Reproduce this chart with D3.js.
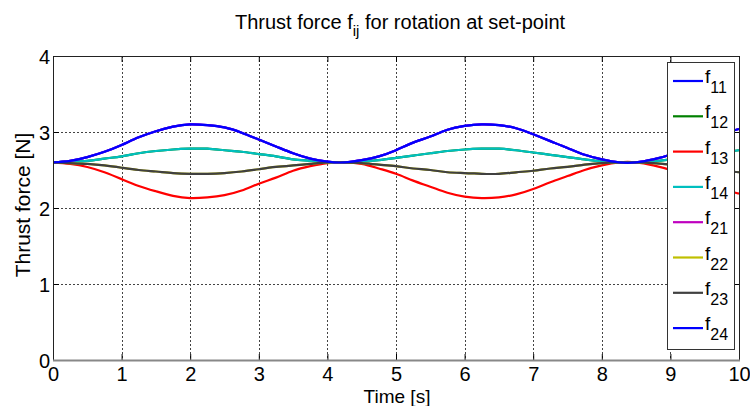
<!DOCTYPE html>
<html>
<head>
<meta charset="utf-8">
<style>
  body { margin: 0; background: #fff; }
  svg text { font-family: "Liberation Sans", Arial, sans-serif; fill: #000; }
</style>
</head>
<body>
<div id="chart"></div>
<script src="https://d3js.org/d3.v7.min.js"></script>
<script>
  // time samples [s]
  const time = [0, 0.25, 0.5, 0.75, 1, 1.25, 1.5, 1.75, 2, 2.25, 2.5, 2.75, 3, 3.25, 3.5, 3.75,
    4, 4.25, 4.5, 4.75, 5, 5.25, 5.5, 5.75, 6, 6.25, 6.5, 6.75, 7, 7.25, 7.5, 7.75,
    8, 8.25, 8.5, 8.75, 9, 9.25, 9.5, 9.75, 10];

  // thrust forces [N]
  const f11 = [2.60, 2.62, 2.67, 2.74, 2.83, 2.93, 3.01, 3.07, 3.10, 3.09, 3.06, 2.99, 2.90, 2.81, 2.72, 2.65,
    2.61, 2.60, 2.63, 2.68, 2.76, 2.86, 2.94, 3.03, 3.08, 3.10, 3.09, 3.05, 2.97, 2.88, 2.79, 2.70,
    2.64, 2.60, 2.60, 2.64, 2.70, 2.79, 2.88, 2.97, 3.04];
  const f13 = [2.60, 2.58, 2.54, 2.47, 2.38, 2.29, 2.22, 2.16, 2.13, 2.14, 2.17, 2.23, 2.32, 2.40, 2.49, 2.55,
    2.59, 2.60, 2.58, 2.52, 2.45, 2.36, 2.28, 2.20, 2.15, 2.13, 2.14, 2.18, 2.25, 2.34, 2.42, 2.50,
    2.56, 2.60, 2.60, 2.56, 2.50, 2.42, 2.34, 2.25, 2.19];
  const f14 = [2.60, 2.61, 2.62, 2.65, 2.68, 2.72, 2.75, 2.77, 2.78, 2.78, 2.76, 2.74, 2.71, 2.68, 2.64, 2.62,
    2.60, 2.60, 2.61, 2.63, 2.66, 2.69, 2.72, 2.75, 2.77, 2.78, 2.78, 2.76, 2.73, 2.70, 2.67, 2.64,
    2.61, 2.60, 2.60, 2.61, 2.64, 2.67, 2.70, 2.73, 2.76];
  const f23 = [2.60, 2.59, 2.58, 2.56, 2.53, 2.50, 2.48, 2.46, 2.45, 2.45, 2.46, 2.48, 2.51, 2.54, 2.56, 2.58,
    2.60, 2.60, 2.59, 2.57, 2.55, 2.52, 2.50, 2.47, 2.46, 2.45, 2.45, 2.47, 2.49, 2.52, 2.54, 2.57,
    2.59, 2.60, 2.60, 2.59, 2.57, 2.54, 2.52, 2.49, 2.47];
  // hidden curves lie under the visible ones
  const f12 = f14;
  const f21 = f11;
  const f22 = f23;
  const f24 = f11;

  const seriesNames = ['11', '12', '13', '14', '21', '22', '23', '24'];
  const seriesValues = [f11, f12, f13, f14, f21, f22, f23, f24];
  const seriesColors = ['#0000ff', '#008000', '#ff0000', '#00bfbf', '#bf00bf', '#bfbf00', '#404040', '#0000ff'];

  const xTicks = [0, 1, 2, 3, 4, 5, 6, 7, 8, 9, 10];
  const yTicks = [0, 1, 2, 3, 4];

  const width = 750, height = 406;
  const margin = { top: 56, right: 11, bottom: 46, left: 53 };
  const w = width - margin.left - margin.right;
  const h = height - margin.top - margin.bottom;

  const svg = d3.select('#chart').append('svg')
    .attr('width', width)
    .attr('height', height);

  const g = svg.append('g')
    .attr('transform', 'translate(' + margin.left + ',' + margin.top + ')');

  const x = d3.scaleLinear().domain([0, 10]).range([0, w]);
  const y = d3.scaleLinear().domain([0, 4]).range([h, 0]);

  svg.append('defs').append('clipPath').attr('id', 'clip')
    .append('rect').attr('width', w).attr('height', h);

  // grid
  g.append('g').selectAll('line').data(xTicks.slice(1, -1)).join('line')
    .attr('x1', d => Math.round(x(d)) + 0.5).attr('x2', d => Math.round(x(d)) + 0.5)
    .attr('y1', 0).attr('y2', h)
    .attr('stroke', '#444').attr('stroke-width', 1).attr('stroke-dasharray', '2,2');
  g.append('g').selectAll('line').data(yTicks.slice(1, -1)).join('line')
    .attr('y1', d => Math.round(y(d)) + 0.5).attr('y2', d => Math.round(y(d)) + 0.5)
    .attr('x1', 0).attr('x2', w)
    .attr('stroke', '#444').attr('stroke-width', 1).attr('stroke-dasharray', '2,2');

  // curves
  const line = d3.line()
    .x((d, i) => x(time[i]))
    .y(d => y(d))
    .curve(d3.curveNatural);

  g.append('g').attr('clip-path', 'url(#clip)')
    .selectAll('path').data(seriesValues).join('path')
    .attr('d', d => line(d))
    .attr('fill', 'none')
    .attr('stroke', (d, i) => seriesColors[i])
    .attr('stroke-width', 2.2);

  // axes, ticks inside like MATLAB
  function styleAxis(sel) {
    sel.select('.domain').remove();
    sel.selectAll('.tick line').attr('stroke', '#000');
    sel.selectAll('.tick text').attr('font-size', 20);
  }
  g.append('g').attr('transform', 'translate(0,' + h + ')')
    .call(d3.axisBottom(x).tickValues(xTicks).tickSize(-6).tickFormat(d3.format('d')))
    .call(styleAxis)
    .call(a => a.selectAll('.tick text').attr('y', 21).attr('dy', 0));
  g.append('g')
    .call(d3.axisLeft(y).tickValues(yTicks).tickSize(-6).tickFormat(d3.format('d')))
    .call(styleAxis)
    .call(a => a.selectAll('.tick text').attr('x', -3).attr('dy', '0.36em'));
  g.append('g')
    .call(d3.axisTop(x).tickValues(xTicks).tickSize(-6).tickFormat(''))
    .call(styleAxis);
  g.append('g').attr('transform', 'translate(' + w + ',0)')
    .call(d3.axisRight(y).tickValues(yTicks).tickSize(-6).tickFormat(''))
    .call(styleAxis);

  // frame
  g.append('path')
    .attr('d', `M0.5,${h}V0.5H${w + 0.5}V${h}`)
    .attr('fill', 'none').attr('stroke', '#222');
  g.append('line')
    .attr('x1', 0).attr('x2', w + 1).attr('y1', h + 0.5).attr('y2', h + 0.5)
    .attr('stroke', '#888').attr('stroke-width', 2);

  // legend
  const legend = g.append('g').attr('transform', 'translate(' + (667 - margin.left) + ',' + (62 - margin.top) + ')');
  legend.append('rect')
    .attr('x', 0.5).attr('y', 0.5).attr('width', 67).attr('height', 287)
    .attr('fill', '#fff').attr('stroke', '#333');
  const item = legend.selectAll('g.item').data(seriesNames).join('g')
    .attr('class', 'item')
    .attr('transform', (d, i) => 'translate(0,' + (19 + i * 35.3) + ')');
  item.append('line')
    .attr('x1', 6).attr('x2', 36).attr('y1', 0).attr('y2', 0)
    .attr('stroke', (d, i) => seriesColors[i]).attr('stroke-width', 2.2);
  const lt = item.append('text').attr('x', 38).attr('y', 2).attr('font-size', 19);
  lt.append('tspan').text('f');
  lt.append('tspan').attr('dy', 10).attr('font-size', 16).text(d => d);

  // title and labels
  const title = svg.append('text')
    .attr('x', 400).attr('y', 29)
    .attr('text-anchor', 'middle')
    .attr('font-size', 20);
  title.append('tspan').text('Thrust force f');
  title.append('tspan').attr('dy', 7).attr('font-size', 15).text('ij');
  title.append('tspan').attr('dy', -7).text(' for rotation at set-point');

  svg.append('text')
    .attr('x', 397).attr('y', 403)
    .attr('text-anchor', 'middle')
    .attr('font-size', 19)
    .text('Time [s]');

  svg.append('text')
    .attr('transform', 'translate(30,205) rotate(-90)')
    .attr('text-anchor', 'middle')
    .attr('font-size', 21)
    .text('Thrust force [N]');
</script>
</body>
</html>
